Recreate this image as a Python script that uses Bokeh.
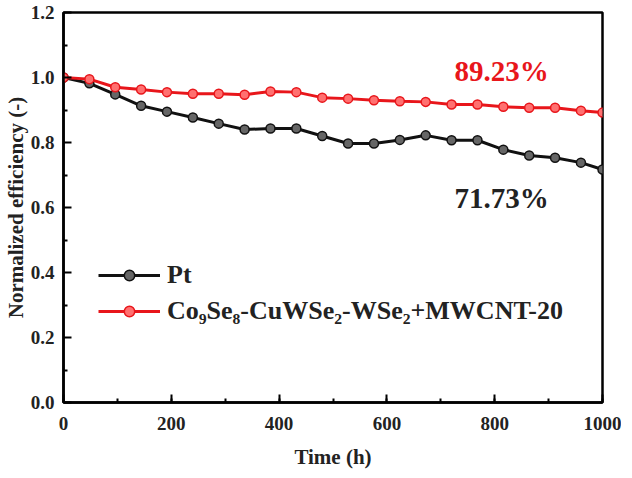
from bokeh.plotting import figure
from bokeh.models import (Range1d, SingleIntervalTicker, FixedTicker,
                          PrintfTickFormatter, Legend, LegendItem, Label)
from bokeh.embed import file_html
from bokeh.resources import INLINE

# ---- data ----
time_h = [0, 48, 96, 144, 192, 240, 288, 336, 384, 432, 480, 528, 576, 624,
          672, 720, 768, 816, 864, 912, 960, 1000]
pt_eff = [1.000, 0.982, 0.948, 0.913, 0.895, 0.877, 0.858, 0.840, 0.843, 0.843,
          0.820, 0.797, 0.797, 0.808, 0.822, 0.807, 0.807, 0.778, 0.760, 0.753,
          0.738, 0.717]
cse_eff = [1.000, 0.995, 0.970, 0.963, 0.955, 0.950, 0.950, 0.947, 0.957, 0.955,
           0.938, 0.935, 0.930, 0.927, 0.925, 0.917, 0.917, 0.910, 0.907, 0.907,
           0.898, 0.892]
y_major_ticks = [0.0, 0.2, 0.4, 0.6, 0.8, 1.0, 1.2]
y_minor_ticks = [0.1, 0.3, 0.5, 0.7, 0.9, 1.1]
series_labels = ["Pt", "Co\u2089Se\u2088-CuWSe\u2082-WSe\u2082+MWCNT-20"]
final_labels = ["71.73%", "89.23%"]

FONT = "Liberation Serif"
BLACK = "#111111"
RED = "#e8161b"

p = figure(frame_width=539, frame_height=390,
           min_border_left=58, min_border_right=19,
           min_border_top=12, min_border_bottom=60,
           x_range=Range1d(0, 1000), y_range=Range1d(0, 1.2),
           output_backend="svg", toolbar_location=None,
           background_fill_color="white", border_fill_color="white")

p.xgrid.visible = False
p.ygrid.visible = False
p.outline_line_color = "black"
p.outline_line_width = 2.5

p.xaxis.ticker = SingleIntervalTicker(interval=200, num_minor_ticks=2)
p.yaxis.ticker = FixedTicker(ticks=y_major_ticks, minor_ticks=y_minor_ticks)
p.xaxis.formatter = PrintfTickFormatter(format="%d")
p.yaxis.formatter = PrintfTickFormatter(format="%.1f")

for ax in (p.xaxis, p.yaxis):
    ax.axis_line_width = 2.5
    ax.axis_line_color = "black"
    ax.major_tick_in = 8
    ax.major_tick_out = 0
    ax.minor_tick_in = 4
    ax.minor_tick_out = 0
    ax.major_tick_line_width = 2
    ax.minor_tick_line_width = 2
    ax.major_label_text_font = FONT
    ax.major_label_text_font_style = "bold"
    ax.major_label_text_font_size = "19px"
    ax.major_label_text_color = "#222222"
    ax.axis_label_text_font = FONT
    ax.axis_label_text_font_style = "bold"
    ax.axis_label_text_font_size = "21px"
    ax.axis_label_text_color = "#222222"

p.xaxis.major_label_standoff = 14
p.yaxis.major_label_standoff = 9
p.xaxis.axis_label = "Time (h)"
p.xaxis.axis_label_standoff = 12
p.yaxis.axis_label = "Normalized efficiency (-)"
p.yaxis.axis_label_standoff = 0

l1 = p.line(time_h, pt_eff, line_color=BLACK, line_width=3)
s1 = p.scatter(time_h, pt_eff, size=9, marker="circle", fill_color="#666666",
               line_color=BLACK, line_width=1.5)
l2 = p.line(time_h, cse_eff, line_color=RED, line_width=3)
s2 = p.scatter(time_h, cse_eff, size=9, marker="circle", fill_color="#ff7070",
               line_color=RED, line_width=1.5)

legend = Legend(items=[LegendItem(label=series_labels[0], renderers=[l1, s1]),
                       LegendItem(label=series_labels[1], renderers=[l2, s2])],
                location=(35, 76), glyph_width=62, glyph_height=26,
                label_height=26, spacing=6, padding=0, margin=0,
                label_standoff=7, border_line_alpha=0,
                background_fill_alpha=0,
                label_text_font=FONT, label_text_font_style="bold",
                label_text_font_size="26px", label_text_color="#222222")
p.add_layout(legend)

p.add_layout(Label(x=813, y=1.02, text=final_labels[1], text_align="center",
                   text_baseline="middle", text_font=FONT,
                   text_font_style="bold", text_font_size="29px",
                   text_color=RED))
p.add_layout(Label(x=813, y=0.628, text=final_labels[0], text_align="center",
                   text_baseline="middle", text_font=FONT,
                   text_font_style="bold", text_font_size="29px",
                   text_color="#222222"))

open("out.html", "w").write(file_html(p, INLINE))
